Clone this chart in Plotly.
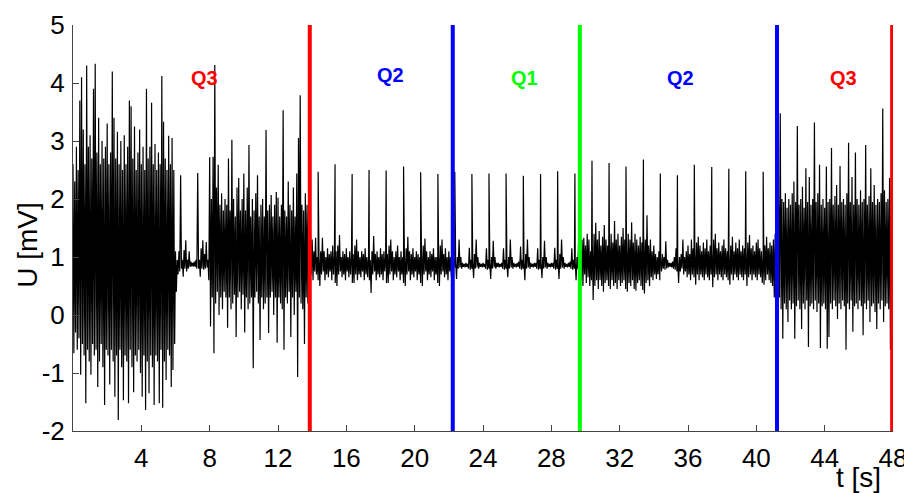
import plotly.graph_objects as go

# ---------------- data ----------------
# Each segment: start time, upper readings (every 0.1 s), lower readings (every 0.1 s, offset 0.05 s)

hi_A = [2.6, 2.3, 2.9, 2.5, 3.7, 4.1, 3.2, 2.6, 4.3, 2.9,
        3.1, 2.7, 3.9, 4.33, 2.8, 3.4, 2.6, 3.0, 2.7, 2.9,
        3.3, 2.6, 2.8, 4.2, 3.4, 2.7, 3.16, 2.6, 3.0, 2.5,
        3.1, 2.6, 2.9, 3.7, 3.6, 2.7, 3.25, 2.5, 2.8, 3.2,
        2.6, 2.9, 2.5, 3.9, 2.7, 2.9, 3.66, 2.6, 2.95, 2.5,
        2.8, 2.6, 4.12, 3.33, 2.7, 2.5, 3.09, 2.6, 3.05, 2.5]
lo_A = [-0.66, -0.3, -0.6, -0.4, -1.03, -0.5, -0.7, -1.52, -0.6, -0.8,
        -1.03, -0.5, -0.7, -0.6, -1.24, -0.8, -0.5, -0.9, -1.55, -0.6,
        -0.7, -1.2, -0.6, -0.8, -1.41, -0.7, -1.81, -0.6, -0.9, -1.47,
        -0.7, -0.8, -1.52, -0.6, -0.9, -1.33, -0.7, -0.8, -0.6, -1.0,
        -1.41, -0.7, -1.64, -0.8, -1.35, -0.7, -0.9, -1.55, -0.7, -0.8,
        -1.52, -0.6, -1.6, -0.8, -1.12, -0.6, -0.7, -1.24, -0.95, -0.5]

hi_gap = [1.1, 0.95, 1.1, 2.41, 0.95, 1.12, 1.29, 0.95, 1.1, 0.92,
          0.9, 0.92, 0.95, 2.45, 0.95, 1.15, 1.29, 1.05, 1.26, 0.95]
lo_gap = [0.4, 0.7, 0.75, 0.8, 0.66, 0.8, 0.75, 0.8, 0.83, 0.84,
          0.84, 0.83, 0.8, 0.8, 0.66, 0.8, 0.78, 0.8, 0.82, 0.6]

hi_B = [2.72, 2.0, 2.73, 4.31, 2.2, 2.59, 1.9, 2.1, 1.8, 2.0,
        1.9, 2.7, 1.8, 3.02, 2.0, 1.7, 2.2, 2.36, 1.8, 2.0,
        2.44, 1.8, 2.2, 2.93, 1.7, 2.0, 1.8, 2.1, 2.41, 1.7,
        1.9, 2.0, 1.7, 3.19, 1.8, 1.9, 2.07, 1.7, 1.9, 2.12,
        2.02, 1.7, 1.9, 3.53, 1.8, 1.7, 2.3, 1.9, 1.8, 2.2,
        1.7, 2.44, 3.05, 3.79, 1.9, 1.8, 2.1, 1.9, 2.1]
lo_B = [-0.2, 0.3, -0.66, 0.2, 0.4, 0.0, 0.3, 0.1, 0.4, 0.3,
        -0.22, 0.3, 0.1, 0.2, 0.35, -0.38, 0.3, 0.4, 0.1, 0.35,
        -0.3, 0.3, 0.1, 0.2, 0.3, -0.92, 0.3, 0.4, 0.2, -0.43,
        0.3, 0.1, 0.2, 0.3, -0.31, 0.3, 0.4, 0.0, 0.3, -0.48,
        0.3, 0.2, 0.1, -0.6, 0.3, 0.2, 0.4, -0.38, 0.3, 0.0,
        0.4, -1.07, 0.3, 0.2, 0.1, -0.5, 0.3, 0.2, 0.3]

hi_C = [1.47, 1.3, 1.1, 1.33, 1.0, 1.0, 1.1, 1.33, 1.1, 1.0,
        1.15, 1.05, 1.1, 1.2, 1.0, 1.1, 1.2, 1.38, 1.0, 1.1,
        1.05, 1.15, 1.0, 1.1, 1.0, 1.05, 1.2, 1.3, 1.1, 1.0,
        1.1, 1.05, 1.15, 1.0, 1.0, 0.95, 1.1, 1.36, 1.05, 1.1,
        1.0, 1.15, 1.05, 1.1, 1.0, 1.05, 1.2, 1.3, 1.1, 1.0,
        1.1, 1.2, 1.0, 1.1, 1.0, 1.0, 1.15, 1.35, 1.1, 1.05,
        1.15, 1.0, 1.1, 1.05, 1.0, 1.05, 1.2, 1.32, 1.1, 1.0,
        1.1, 1.05, 1.15, 1.0, 1.0, 1.05, 1.2, 1.3, 1.05, 1.15,
        1.0, 1.1, 1.0]
lo_C = [0.7, 0.6, 0.75, 0.7, 0.6, 0.5, 0.7, 0.75, 0.6, 0.7,
        0.65, 0.75, 0.6, 0.7, 0.55, 0.5, 0.7, 0.75, 0.65, 0.7,
        0.6, 0.75, 0.65, 0.7, 0.55, 0.55, 0.7, 0.6, 0.7, 0.65,
        0.75, 0.6, 0.7, 0.65, 0.6, 0.38, 0.7, 0.75, 0.6, 0.7,
        0.65, 0.7, 0.6, 0.75, 0.55, 0.55, 0.7, 0.75, 0.6, 0.7,
        0.65, 0.75, 0.6, 0.7, 0.55, 0.5, 0.7, 0.75, 0.6, 0.7,
        0.65, 0.75, 0.6, 0.7, 0.55, 0.5, 0.7, 0.75, 0.6, 0.7,
        0.65, 0.75, 0.6, 0.7, 0.55, 0.5, 0.7, 0.75, 0.65, 0.7,
        0.6, 0.75, 0.65]

hi_D = [1.15, 0.95, 0.9, 1.0, 1.3, 1.0, 0.9, 0.88, 0.9, 0.88,
        1.16, 0.95, 0.9, 1.05, 1.3, 1.0, 0.9, 0.88, 0.9, 0.88,
        1.15, 0.95, 0.9, 1.0, 1.28, 1.0, 0.9, 0.9, 0.88, 0.9,
        1.15, 0.95, 0.9, 1.0, 1.3, 1.0, 0.9, 0.88, 0.9, 0.92,
        1.18, 0.95, 0.9, 1.05, 1.3, 1.0, 0.9, 0.88, 0.9, 0.9,
        1.15, 0.95, 0.9, 1.0, 1.28, 1.0, 0.9, 0.88, 0.9, 0.9,
        1.16, 0.95, 0.9, 1.05, 1.3, 1.0, 0.9, 0.88, 0.9, 0.92,
        1.15, 0.95, 0.9, 1.0, 1.3]
lo_D = [0.8, 0.82, 0.62, 0.8, 0.82, 0.8, 0.83, 0.82, 0.83, 0.8,
        0.78, 0.8, 0.64, 0.8, 0.82, 0.8, 0.83, 0.82, 0.83, 0.8,
        0.78, 0.8, 0.62, 0.8, 0.82, 0.8, 0.83, 0.82, 0.83, 0.8,
        0.78, 0.8, 0.65, 0.8, 0.82, 0.8, 0.83, 0.82, 0.83, 0.8,
        0.78, 0.8, 0.6, 0.8, 0.82, 0.8, 0.83, 0.82, 0.83, 0.8,
        0.78, 0.8, 0.64, 0.8, 0.82, 0.8, 0.83, 0.82, 0.83, 0.8,
        0.78, 0.8, 0.62, 0.8, 0.82, 0.8, 0.83, 0.82, 0.83, 0.8,
        0.78, 0.8, 0.6, 0.8, 0.82]

hi_E = [1.2, 1.3, 1.33, 1.2, 1.4, 1.3, 1.1, 1.2, 1.4, 1.59,
        1.3, 1.45, 1.2, 1.35, 1.55, 1.3, 1.2, 1.3, 1.4, 1.25,
        1.62, 1.3, 1.4, 1.2, 1.35, 1.5, 1.3, 1.2, 1.4, 1.3,
        1.6, 1.25, 1.4, 1.3, 1.2, 1.35, 1.25, 1.4, 1.3, 1.72,
        1.2, 1.3, 1.1, 1.2, 1.05, 1.0, 1.1, 0.95, 1.05, 1.0,
        1.27, 0.95, 0.9, 0.9, 0.92, 1.0, 1.15, 0.95, 1.0, 1.05,
        1.3, 1.0, 1.1, 1.2, 1.05, 1.3, 1.15, 1.1, 1.25, 1.35,
        1.2, 1.1, 1.25, 1.15, 1.3, 1.1, 1.2, 1.1, 1.3, 1.4,
        1.15, 1.25, 1.1, 1.2, 1.3, 1.15, 1.1, 1.05, 1.2, 1.35,
        1.1, 1.25, 1.15, 1.3, 1.1, 1.2, 1.15, 1.1, 1.25, 1.38,
        1.15, 1.2, 1.1, 1.25, 1.3, 1.15, 1.1, 1.05, 1.2, 1.35,
        1.15, 1.25, 1.2, 1.3, 1.4]
lo_E = [0.6, 0.5, 0.7, 0.55, 0.65, 0.5, 0.6, 0.26, 0.5, 0.6,
        0.45, 0.6, 0.5, 0.4, 0.55, 0.6, 0.5, 0.45, 0.6, 0.5,
        0.55, 0.45, 0.6, 0.5, 0.55, 0.6, 0.45, 0.4, 0.55, 0.5,
        0.6, 0.45, 0.42, 0.55, 0.6, 0.5, 0.43, 0.37, 0.55, 0.6,
        0.5, 0.65, 0.6, 0.7, 0.62, 0.7, 0.6, 0.75, 0.8, 0.78,
        0.8, 0.82, 0.83, 0.82, 0.8, 0.78, 0.75, 0.55, 0.75, 0.8,
        0.7, 0.75, 0.65, 0.7, 0.6, 0.7, 0.65, 0.52, 0.7, 0.6,
        0.7, 0.65, 0.6, 0.7, 0.65, 0.6, 0.7, 0.48, 0.65, 0.7,
        0.6, 0.7, 0.65, 0.6, 0.7, 0.65, 0.6, 0.52, 0.7, 0.6,
        0.7, 0.65, 0.6, 0.7, 0.65, 0.6, 0.7, 0.5, 0.65, 0.7,
        0.6, 0.7, 0.65, 0.6, 0.7, 0.65, 0.55, 0.52, 0.6, 0.7,
        0.6, 0.55, 0.5, 0.3, 0.06]

hi_F = [2.0, 1.9, 3.48, 2.0, 1.95, 2.1, 1.85, 2.0, 1.9, 2.1,
        2.3, 1.95, 3.26, 1.9, 2.0, 2.21, 1.85, 2.53, 1.95, 2.38,
        1.9, 2.0, 3.32, 1.95, 2.1, 2.59, 1.9, 2.0, 1.85, 2.56,
        1.95, 2.0, 2.88, 1.9, 2.05, 2.24, 1.9, 2.57, 1.95, 2.0,
        1.9, 2.1, 2.97, 1.95, 2.38, 1.9, 2.8, 2.0, 1.9, 2.15,
        1.95, 2.0, 2.93, 1.9, 2.05, 2.53, 1.95, 2.24, 1.9, 2.0,
        1.95, 2.1, 3.56, 2.15, 1.95, 2.0, 2.36, 2.2]
lo_F = [-0.18, 0.3, 0.1, -0.41, 0.2, 0.1, -0.12, 0.25, 0.1, 0.2,
        -0.41, 0.15, 0.25, 0.1, -0.24, 0.2, 0.1, 0.25, -0.55, 0.15,
        0.2, 0.1, 0.25, 0.05, 0.2, -0.57, 0.15, 0.2, 0.1, -0.58,
        -0.38, 0.2, 0.1, 0.25, 0.15, -0.07, 0.2, 0.1, 0.25, 0.15,
        -0.6, 0.2, 0.1, 0.25, -0.29, 0.15, 0.2, 0.1, 0.25, 0.15,
        -0.35, 0.2, 0.1, 0.25, -0.12, 0.15, 0.2, 0.05, -0.24, 0.2,
        0.1, 0.25, -0.12, 0.15, 0.2, 0.1, -0.6, 0.3]

segment_starts = [0.0, 6.0, 8.0, 13.9, 22.2, 29.7, 41.2]

# periodic spikes (Q2 / Q1 / Q2 sections)
spike_t = [14.35, 15.34, 16.34, 17.33, 18.33, 19.35, 20.35, 21.36,
           22.35, 23.35, 24.35, 25.35, 26.36, 27.37, 28.37, 29.38,
           30.38, 31.38, 32.37, 33.39, 34.38, 35.38, 36.37, 37.39, 38.39, 39.38, 40.4]
spike_v = [2.47, 2.6, 2.43, 2.5, 2.49, 2.56, 2.46, 2.43,
           2.47, 2.43, 2.44, 2.44, 2.4, 2.43, 2.48, 2.44,
           2.66, 2.62, 2.56, 2.68, 2.44, 2.41, 2.59, 2.55, 2.52, 2.48, 2.47]

# boundaries between quality classes
bound_t = [13.86, 22.23, 29.67, 41.21, 47.95]
bound_c = ["#FF0000", "#0000FF", "#00FF00", "#0000FF", "#FF0000"]

# class labels
label_text = ["Q3", "Q2", "Q1", "Q2", "Q3"]
label_t = [7.69, 18.57, 26.4, 35.57, 45.09]
label_v = [4.08, 4.14, 4.09, 4.09, 4.09]
label_c = ["#FF0000", "#0000FF", "#00FF00", "#0000FF", "#FF0000"]

x_ticks = [4, 8, 12, 16, 20, 24, 28, 32, 36, 40, 44, 48]
y_ticks = [-2, -1, 0, 1, 2, 3, 4, 5]

# ---------------- build the trace ----------------
segs = [(hi_A, lo_A), (hi_gap, lo_gap), (hi_B, lo_B), (hi_C, lo_C),
        (hi_D, lo_D), (hi_E, lo_E), (hi_F, lo_F)]
pts = []
for start, (hi, lo) in zip(segment_starts, segs):
    for i, v in enumerate(hi):
        pts.append((round(start + 0.1 * i, 3), 0, v))
    for i, v in enumerate(lo):
        pts.append((round(start + 0.05 + 0.1 * i, 3), 0, v))
for t, v in zip(spike_t, spike_v):
    pts.append((t, 1, v))
pts.sort(key=lambda p: (p[0], p[1]))
xs = [p[0] for p in pts]
ys = [p[2] for p in pts]

FONT = "Liberation Sans, Arial, sans-serif"
AX = "#444444"

fig = go.Figure()
fig.add_trace(go.Scatter(x=xs, y=ys, mode="lines",
                         line=dict(color="black", width=1.2, simplify=False),
                         hoverinfo="skip", showlegend=False))

for t, c in zip(bound_t, bound_c):
    fig.add_shape(type="line", x0=t, x1=t, y0=-2, y1=5, xref="x", yref="y",
                  line=dict(color=c, width=4), layer="above")

for txt, t, v, c in zip(label_text, label_t, label_v, label_c):
    fig.add_annotation(x=t, y=v, text="<b>%s</b>" % txt, showarrow=False,
                       font=dict(family=FONT, size=20, color=c),
                       xanchor="center", yanchor="middle")

fig.add_annotation(xref="paper", yref="paper", x=-0.0555, y=0.46, text="U [mV]",
                   textangle=-90, showarrow=False,
                   font=dict(family=FONT, size=28, color="black"),
                   xanchor="center", yanchor="middle")
fig.add_annotation(xref="paper", yref="paper", x=0.958, y=-0.114, text="t [s]",
                   showarrow=False, font=dict(family=FONT, size=28, color="black"),
                   xanchor="center", yanchor="middle")

# the page body has an 8 px margin, so the plot area is placed to compensate
fig.update_layout(
    width=912, height=493,
    margin=dict(l=65, r=27, t=17, b=70, autoexpand=False),
    paper_bgcolor="white", plot_bgcolor="white",
    showlegend=False,
    xaxis=dict(range=[0, 48], tickvals=x_ticks, ticktext=[str(v) for v in x_ticks],
               ticks="inside", ticklen=6, tickcolor=AX, showline=True, linecolor=AX,
               linewidth=1, showgrid=False, zeroline=False, ticklabelstandoff=4,
               automargin=False,
               tickfont=dict(family=FONT, size=26, color="black")),
    yaxis=dict(range=[-2, 5], tickvals=y_ticks, ticktext=[str(v) for v in y_ticks],
               ticks="inside", ticklen=6, tickcolor=AX, showline=True, linecolor=AX,
               linewidth=1, showgrid=False, zeroline=False, ticklabelstandoff=2,
               automargin=False,
               tickfont=dict(family=FONT, size=26, color="black")),
)

fig.write_html("out.html")
